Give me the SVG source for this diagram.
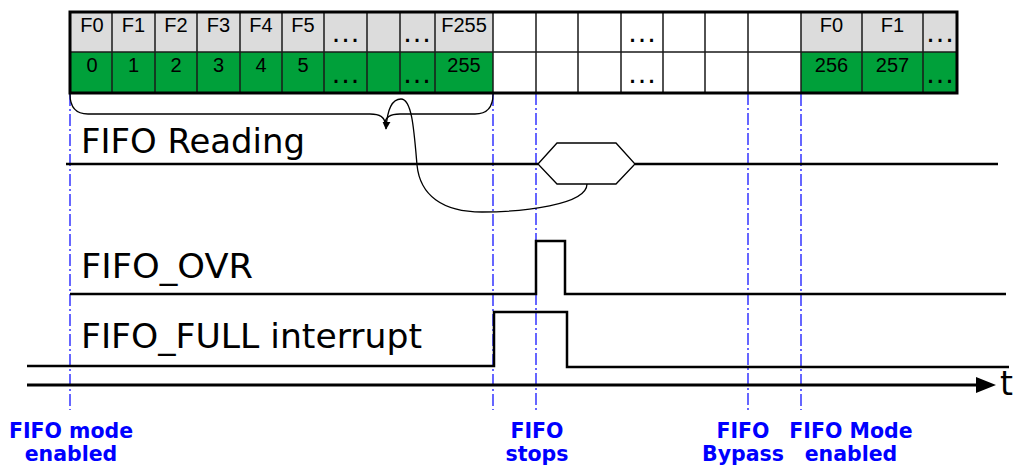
<svg xmlns="http://www.w3.org/2000/svg" width="1016" height="466" viewBox="0 0 1016 466">
<defs>
<style>
.hdr{fill:#dcdcdc}
.dat{fill:#00a03a}
.wht{fill:#ffffff}
.grid{stroke:#1a1a1a;stroke-width:1.5;fill:none}
.cell{font-family:"Liberation Sans",Arial,sans-serif;font-size:20px;fill:#000;text-anchor:middle}
.dots{font-family:"Liberation Sans",Arial,sans-serif;font-size:30px;fill:#000;text-anchor:middle}
.sig{stroke:#000;stroke-width:2.5;fill:none}
.lbl{font-family:"DejaVu Sans",Verdana,sans-serif;font-size:33px;fill:#000}
.mark{stroke:#0000ff;stroke-width:1.2;stroke-dasharray:12 3 2 3;fill:none}
.ev{font-family:"DejaVu Sans",Verdana,sans-serif;font-weight:bold;font-size:20.5px;fill:#0000ff;text-anchor:middle}
</style>
<marker id="ah" viewBox="0 0 10 10" refX="9" refY="5" markerWidth="8" markerHeight="9" markerUnits="userSpaceOnUse" orient="auto">
<path d="M0,0 L10,5 L0,10 Z" fill="#000"/>
</marker>
</defs>
<rect width="1016" height="466" fill="#fff"/>

<g id="markers">
<line class="mark" x1="70" y1="94" x2="70" y2="410"/>
<line class="mark" x1="493" y1="94" x2="493" y2="410"/>
<line class="mark" x1="536" y1="53" x2="536" y2="410"/>
<line class="mark" x1="748" y1="53" x2="748" y2="410"/>
<line class="mark" x1="801" y1="94" x2="801" y2="410"/>
</g>

<g id="fifo-table">
<rect class="hdr" x="70" y="12" width="423" height="40"/>
<rect class="dat" x="70" y="52" width="423" height="41"/>
<rect class="wht" x="493" y="12" width="308" height="81"/>
<rect class="hdr" x="801" y="12" width="156" height="40"/>
<rect class="dat" x="801" y="52" width="156" height="41"/>
<path class="grid" d="M70,52 H957 M112,12 V93 M155,12 V93 M197,12 V93 M240,12 V93 M282,12 V93 M324,12 V93 M367,12 V93 M400,12 V93 M435,12 V93 M493,12 V93 M536,12 V93 M578,12 V93 M621,12 V93 M663,12 V93 M705,12 V93 M748,12 V93 M801,12 V93 M862,12 V93 M923,12 V93"/>
<rect x="70" y="12" width="887" height="81" fill="none" stroke="#000" stroke-width="3"/>
<g class="cell">
<text x="92" y="32">F0</text>
<text x="133.5" y="32">F1</text>
<text x="176" y="32">F2</text>
<text x="218.5" y="32">F3</text>
<text x="261" y="32">F4</text>
<text x="303" y="32">F5</text>
<text x="464" y="32">F255</text>
<text x="92" y="72">0</text>
<text x="133.5" y="72">1</text>
<text x="176" y="72">2</text>
<text x="218.5" y="72">3</text>
<text x="261" y="72">4</text>
<text x="303" y="72">5</text>
<text x="464" y="72">255</text>
<text x="831.5" y="32">F0</text>
<text x="892.5" y="32">F1</text>
<text x="831.5" y="72">256</text>
<text x="892.5" y="72">257</text>
</g>
<g class="dots">
<text x="345.5" y="42">…</text>
<text x="417" y="42">…</text>
<text x="345.5" y="82.5">…</text>
<text x="417" y="82.5">…</text>
<text x="642" y="42">…</text>
<text x="642" y="82.5">…</text>
<text x="940" y="42">…</text>
<text x="940" y="82.5">…</text>
</g>
</g>

<g id="brace">
<path d="M70,94 Q70,114 88,114 L370,114 Q385,114 385,124 Q385,114 400,114 L475,114 Q493,114 493,94" fill="none" stroke="#000" stroke-width="1.3"/>
</g>

<g id="fifo-reading">
<text class="lbl" x="81" y="153" textLength="224" lengthAdjust="spacingAndGlyphs">FIFO Reading</text>
<path class="sig" d="M66,164 H538 M635,164 H998"/>
<polygon points="538,164 557,143 616,143 635,164 616,184 557,184" fill="#fff" stroke="#000" stroke-width="1.3"/>
</g>

<g id="fifo-ovr">
<text class="lbl" x="81" y="278" textLength="172" lengthAdjust="spacingAndGlyphs">FIFO_OVR</text>
<path class="sig" d="M70,294 H536 V241 H565 V294 H1006"/>
</g>

<g id="fifo-full">
<text class="lbl" x="81" y="348" textLength="341" lengthAdjust="spacingAndGlyphs">FIFO_FULL interrupt</text>
<path class="sig" d="M27,366 H494 V312 H567 V367 H1009"/>
</g>

<g id="time-axis">
<line x1="27" y1="385" x2="980" y2="385" stroke="#000" stroke-width="3"/>
<polygon points="976,377 996,385 976,393" fill="#000"/>
<text class="lbl" x="1000" y="395" font-size="31">t</text>
</g>

<g id="connectors">
<path d="M587,184 C587,205 522,212 482,212 C442,212 420,195 417,165 C414,130 412,99 401,99 C391,99 387,112 386,129" fill="none" stroke="#000" stroke-width="1.3" marker-end="url(#ah)"/>
</g>

<g id="events">
<text class="ev" x="71" y="438">FIFO mode</text>
<text class="ev" x="71" y="461">enabled</text>
<text class="ev" x="537" y="438">FIFO</text>
<text class="ev" x="537" y="461">stops</text>
<text class="ev" x="743" y="438">FIFO</text>
<text class="ev" x="743" y="461">Bypass</text>
<text class="ev" x="851" y="438">FIFO Mode</text>
<text class="ev" x="851" y="461">enabled</text>
</g>
</svg>
